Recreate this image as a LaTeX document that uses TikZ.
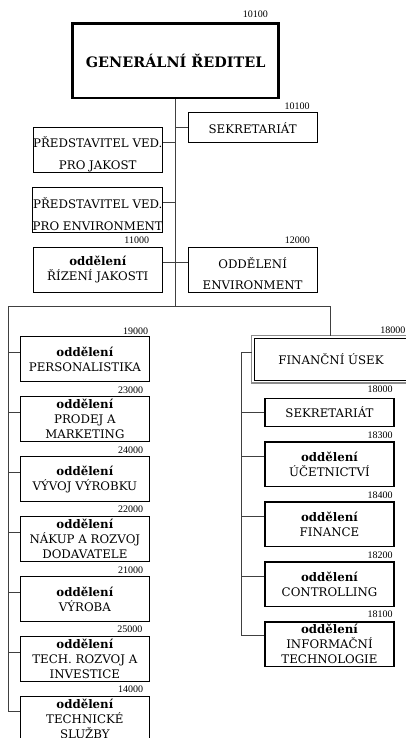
\documentclass[tikz,border=0pt]{standalone}
\usepackage{fontspec}
\setmainfont{DejaVu Serif}
\newfontfamily\numfont{Liberation Serif}
\usetikzlibrary{calc}

% invisible strut that lowers the first line of a box text
\newcommand{\lowerstrut}[1]{\rule{0pt}{#1}}

\tikzset{
  unit/.style={draw=black, line width=1.2pt, rectangle, inner sep=0pt,
    align=center, minimum width=129pt, minimum height=45pt,
    font=\fontsize{11.8}{15}\selectfont},
  headbox/.style={unit, line width=2.5pt, minimum width=206pt,
    minimum height=74.7pt, font=\fontsize{14.4}{18}\selectfont\bfseries},
  widespaced/.style={font=\fontsize{11.8}{22}\selectfont},
  num/.style={inner sep=0pt, font=\numfont\fontsize{10}{11}\selectfont},
  conn/.style={draw=black!75, line width=0.9pt},
}

\begin{document}
\begin{tikzpicture}[x=1pt, y=-1pt]
\useasboundingbox (0,0) rectangle (406,738);
\clip (0,0) rectangle (406,738);
\fill[white] (0,0) rectangle (406,738);

% top management
\node[headbox] (gr) at (175.7,60.7) {GENERÁLNÍ ŘEDITEL};
\node[unit, minimum height=30pt] (sek1) at (252.65,127.7) {SEKRETARIÁT};
\node[unit, widespaced] (pj) at (97.8,150) {\lowerstrut{19pt}PŘEDSTAVITEL VED.\\PRO JAKOST};
\node[unit, widespaced] (pe) at (97.8,209.7) {\lowerstrut{19pt}PŘEDSTAVITEL VED.\\PRO ENVIRONMENT};
\node[unit] (rj) at (97.8,269.8) {\textbf{oddělení}\\ŘÍZENÍ JAKOSTI};
\node[unit, font=\fontsize{11.8}{21}\selectfont] (oe) at (252.65,269.8) {\lowerstrut{18pt}ODDĚLENÍ\\ENVIRONMENT};

% left branch
\node[unit] (pers) at (84.85,359.2) {\textbf{oddělení}\\PERSONALISTIKA};
\node[unit] (prod) at (84.85,419.2) {\textbf{oddělení}\\PRODEJ A\\MARKETING};
\node[unit] (vyv)  at (84.85,479.2) {\textbf{oddělení}\\VÝVOJ VÝROBKU};
\node[unit] (nak)  at (84.85,539.2) {\textbf{oddělení}\\NÁKUP A ROZVOJ\\DODAVATELE};
\node[unit] (vyr)  at (84.85,599.2) {\textbf{oddělení}\\VÝROBA};
\node[unit] (tech) at (84.85,659.2) {\textbf{oddělení}\\TECH. ROZVOJ A\\INVESTICE};
\node[unit] (tsl)  at (84.85,719.2) {\textbf{oddělení}\\TECHNICKÉ\\SLUŽBY};

% finance branch
\node[unit, line width=1pt, minimum width=153pt, minimum height=41.5pt] (fin) at (331,359.25) {FINANČNÍ ÚSEK};
\draw[black!45, line width=1.1pt] ([shift={(-2.5,-2.5)}]fin.north west) rectangle ([shift={(2.5,2.5)}]fin.south east);
\node[unit, minimum height=28.4pt] (sek2) at (329.5,412.5) {SEKRETARIÁT};
\node[unit, minimum height=44.5pt] (ucet) at (329.5,464.25) {\textbf{oddělení}\\ÚČETNICTVÍ};
\node[unit, minimum height=44.5pt] (fina) at (329.5,524.25) {\textbf{oddělení}\\FINANCE};
\node[unit, minimum height=44.5pt] (ctrl) at (329.5,584.25) {\textbf{oddělení}\\CONTROLLING};
\node[unit, minimum height=44.5pt] (info) at (329.5,644.25) {\textbf{oddělení}\\INFORMAČNÍ\\TECHNOLOGIE};

% cost centre numbers
\foreach \b/\n/\dx/\dy in {gr/10100/12/5, sek1/10100/8/2.7, rj/11000/13.6/3.3,
    oe/12000/7.7/3.3, pers/19000/1.7/1.7, prod/23000/6.7/2.7, vyv/24000/6.7/2.7,
    nak/22000/6.7/3.4, vyr/21000/6.7/2.4, tech/25000/7.3/4, tsl/14000/6.7/3.4,
    fin/18000/2.5/4.2, sek2/18000/1.7/5, ucet/18300/1.7/2.7, fina/18400/1.7/2.7,
    ctrl/18200/1.7/2.7, info/18100/1.7/3.7}
  \node[num, anchor=base east] at ([xshift=-\dx pt, yshift=\dy pt]\b.north east) {\n};

% connectors
\coordinate (busL) at (8.3,306);
\coordinate (busR) at (330,306);
\coordinate (rbus) at (241,0);
\coordinate (finTop) at ([yshift=2.5pt]fin.north);

\draw[conn] (gr.south) -- (gr.south |- busL);
\draw[conn] (busL) -- (busR);
\draw[conn] (busR) -- (busR |- finTop);
\draw[conn] (sek1.west) -- (sek1.west -| gr.south);
\foreach \b in {pj,pe}
  \draw[conn] ([yshift=7.3pt]\b.east) coordinate (t) -- (t -| gr.south);
\draw[conn] ([yshift=7.5pt]rj.east) -- ([yshift=7.5pt]oe.west);

\draw[conn] (busL) |- ([yshift=8pt]tsl.west);
\foreach \b in {pers,prod,vyv,nak,vyr,tech}
  \draw[conn] ([yshift=7pt]\b.west) coordinate (t) -- (t -| busL);

\coordinate (finC) at ([xshift=-2.5pt, yshift=7pt]fin.west);
\coordinate (infoC) at ([yshift=9pt]info.west);
\draw[conn] (finC) -- (finC -| rbus) |- (infoC);
\foreach \b/\s in {sek2/0, ucet/7.5, fina/7.5, ctrl/7.5}
  \draw[conn] ([yshift=\s pt]\b.west) coordinate (t) -- (t -| rbus);
\end{tikzpicture}
\end{document}
